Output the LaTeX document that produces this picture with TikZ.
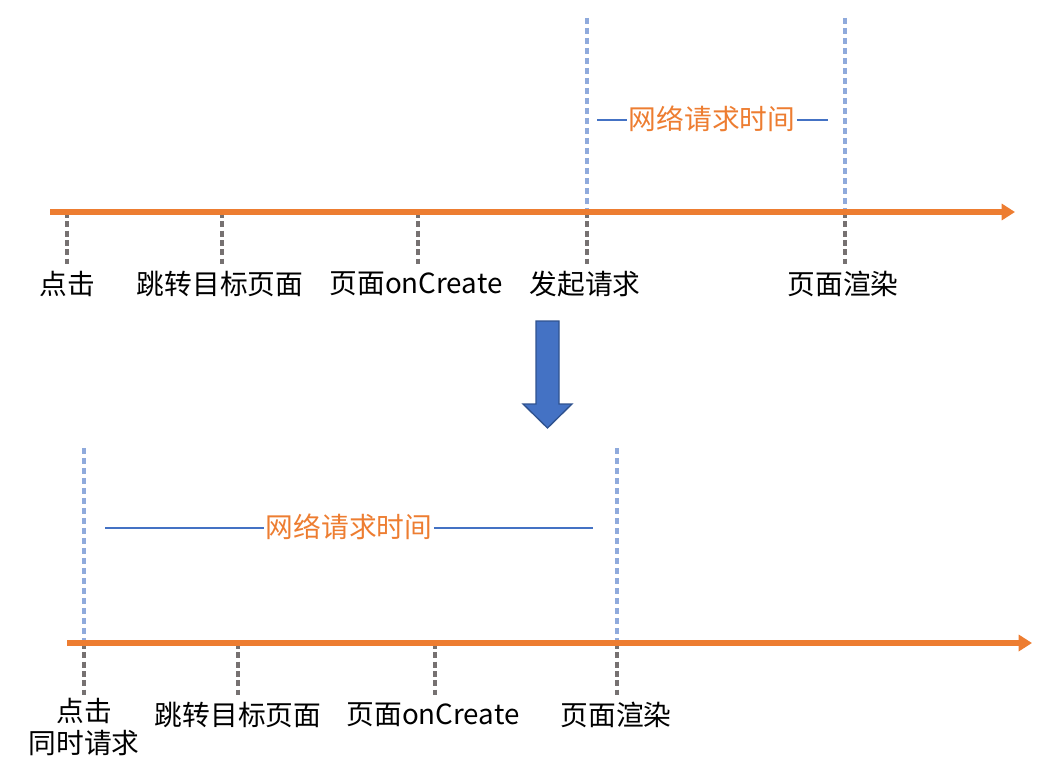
\documentclass[tikz,border=0pt]{standalone}
\usepackage{fontspec}
\setmainfont{Noto Sans CJK SC}
\usetikzlibrary{arrows.meta}
\definecolor{tlorange}{HTML}{ED7D31}
\definecolor{tlblue}{HTML}{4472C4}
\definecolor{tlblueborder}{HTML}{2F528F}
\definecolor{tllight}{HTML}{8FAADC}
\definecolor{tlgray}{HTML}{767171}
\begin{document}
\begin{tikzpicture}[x=0.75pt,y=-0.75pt,
  timeline/.style={draw=tlorange,line width=3.8pt,-{Triangle[length=10pt,width=12pt]}},
  tick/.style={draw=tlgray,line width=2.4pt,dash pattern=on 4.5pt off 2.5pt},
  reqline/.style={draw=tllight,line width=2.3pt,dash pattern=on 4.5pt off 3pt},
  spanline/.style={draw=tlblue,line width=1.2pt},
  lbl/.style={font=\fontsize{20.8pt}{25pt}\selectfont,inner sep=0pt,text=black,align=center},
  spanlbl/.style={font=\fontsize{20.8pt}{25pt}\selectfont,inner sep=1pt,text=tlorange},
  bigarrow/.style={fill=tlblue,draw=tlblueborder,line width=1pt}]
\useasboundingbox (0,0) rectangle (1045,781);

% ---------- top timeline ----------
\coordinate (t0) at (50,212);
\coordinate (t1) at (1015,212);
\coordinate (ta) at (67,212);
\coordinate (tb) at (222,212);
\coordinate (tc) at (418,212);
\coordinate (td) at (587,212);
\coordinate (te) at (845,212);
\coordinate (tdtop) at (587,18);
\coordinate (tetop) at (845,18);

\draw[reqline] (tdtop) -- (td);
\draw[reqline] (tetop) -- (te);

\foreach \p/\n in {ta/tap,tb/tbp,tc/tcp,td/tdp,te/tep}{
  \coordinate (\n) at ([yshift=-52*0.75pt]\p);
}
\draw[tick] (ta) -- (tap);
\draw[tick] (tb) -- (tbp);
\draw[tick] (tc) -- (tcp);
\draw[tick] (td) -- (tdp);
\draw[tick] (te) -- (tep);

\draw[timeline] (t0) -- (t1);

\node[lbl] (la) at (67,284) {点击};
\node[lbl] (lb) at (220,284) {跳转目标页面};
\node[lbl] (lc) at (416,284) {页面onCreate};
\node[lbl] (ld) at (585,284) {发起请求};
\node[lbl] (le) at (843,284) {页面渲染};

\node[spanlbl] (ts) at (712,119) {网络请求时间};
\coordinate (tsl) at (597,120);
\coordinate (tsr) at (828,120);
\draw[spanline] (tsl) -- (tsl -| ts.west);
\draw[spanline] (tsr -| ts.east) -- (tsr);

% ---------- big arrow ----------
\draw[bigarrow] (536,321) -- (559,321) -- (559,404) -- (572,404) -- (547.5,428)
  -- (523,404) -- (536,404) -- cycle;

% ---------- bottom timeline ----------
\coordinate (b0) at (67,643);
\coordinate (b1) at (1032,643);
\coordinate (ba) at (84,643);
\coordinate (bb) at (238,643);
\coordinate (bc) at (435,643);
\coordinate (bd) at (617,643);
\coordinate (batop) at (84,448);
\coordinate (bdtop) at (617,448);

\draw[reqline] (batop) -- (ba);
\draw[reqline] (bdtop) -- (bd);

\foreach \p/\n in {ba/bap,bb/bbp,bc/bcp,bd/bdp}{
  \coordinate (\n) at ([yshift=-52*0.75pt]\p);
}
\draw[tick] (ba) -- (bap);
\draw[tick] (bb) -- (bbp);
\draw[tick] (bc) -- (bcp);
\draw[tick] (bd) -- (bdp);

\draw[timeline] (b0) -- (b1);

\node[lbl] (ma) at (84,711) {点击};
\node[lbl] (ma2) at (84,743) {同时请求};
\node[lbl] (mb) at (238,715) {跳转目标页面};
\node[lbl] (mc) at (433,715) {页面onCreate};
\node[lbl] (md) at (616,715) {页面渲染};

\node[spanlbl] (bs) at (349,527) {网络请求时间};
\coordinate (bsl) at (105,528);
\coordinate (bsr) at (593,528);
\draw[spanline] (bsl) -- (bsl -| bs.west);
\draw[spanline] (bsr -| bs.east) -- (bsr);
\end{tikzpicture}
\end{document}
